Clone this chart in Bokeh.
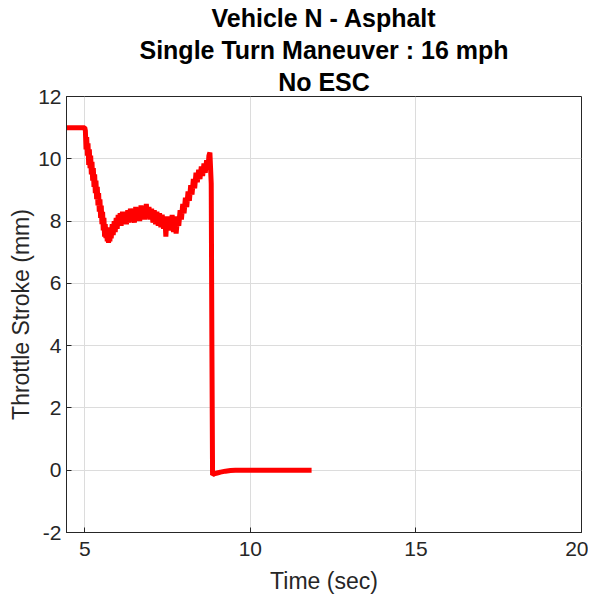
from bokeh.plotting import figure
from bokeh.models import Title, FixedTicker, Range1d
from bokeh.embed import file_html
from bokeh.resources import INLINE

titles = ["Vehicle N - Asphalt", "Single Turn Maneuver : 16 mph", "No ESC"]
x_label = "Time (sec)"
y_label = "Throttle Stroke (mm)"
x_ticks = [5, 10, 15, 20]
y_ticks = [-2, 0, 2, 4, 6, 8, 10, 12]

time = [4.45, 4.8, 5.0, 5.02, 5.04, 5.06, 5.08, 5.1, 5.12, 5.14, 5.16, 5.18, 5.2, 5.22,
        5.24, 5.26, 5.28, 5.3, 5.32, 5.34, 5.36, 5.38, 5.4, 5.42, 5.44, 5.46, 5.48,
        5.5, 5.52, 5.54, 5.56, 5.58, 5.6, 5.62, 5.64, 5.66, 5.68, 5.7, 5.72, 5.74,
        5.76, 5.78, 5.8, 5.83, 5.86, 5.89, 5.92, 5.95, 5.98, 6.01, 6.04, 6.07, 6.1,
        6.14, 6.18, 6.22, 6.26, 6.3, 6.34, 6.38, 6.42, 6.46, 6.5, 6.54, 6.58, 6.62,
        6.66, 6.7, 6.74, 6.78, 6.82, 6.86, 6.9, 6.94, 6.98, 7.02, 7.06, 7.1, 7.14,
        7.18, 7.22, 7.26, 7.3, 7.34, 7.38, 7.42, 7.45, 7.48, 7.52, 7.56, 7.6, 7.64,
        7.68, 7.72, 7.76, 7.8, 7.84, 7.88, 7.92, 7.96, 8.0, 8.04, 8.08, 8.12, 8.16,
        8.2, 8.24, 8.28, 8.32, 8.36, 8.4, 8.44, 8.48, 8.52, 8.56, 8.6, 8.64, 8.68,
        8.72, 8.75, 8.78, 8.8, 8.82, 8.84, 8.86, 8.9, 9.0, 9.1, 9.25, 9.4, 9.55,
        9.8, 10.5, 11.2, 11.85]
throttle = [11.0, 11.0, 11.0, 10.9, 10.3, 10.7, 10.1, 10.5, 9.8, 10.3, 9.7, 10.1, 9.5, 9.9,
            9.3, 9.7, 9.1, 9.5, 8.9, 9.3, 8.7, 9.1, 8.5, 8.9, 8.3, 8.7, 8.1, 8.5,
            7.9, 8.3, 7.7, 8.1, 7.5, 7.9, 7.45, 7.8, 7.35, 7.7, 7.3, 7.6, 7.35, 7.8,
            7.45, 7.9, 7.55, 8.0, 7.65, 8.1, 7.75, 8.2, 7.85, 8.25, 7.85, 8.3, 7.95, 8.3,
            7.9, 8.35, 7.95, 8.4, 8.0, 8.35, 7.95, 8.45, 8.05, 8.4, 8.0, 8.5, 8.05,
            8.45, 8.05, 8.55, 8.1, 8.45, 8.05, 8.4, 7.95, 8.35, 7.9, 8.3, 7.85, 8.25, 7.8,
            8.2, 7.75, 8.15, 7.5, 8.1, 7.75, 8.15, 7.7, 8.2, 7.65, 8.15, 7.6, 8.05,
            7.85, 8.35, 8.05, 8.55, 8.25, 8.75, 8.45, 8.95, 8.65, 9.15, 8.85, 9.35, 9.05, 9.55,
            9.25, 9.65, 9.35, 9.75, 9.45, 9.85, 9.55, 9.95, 9.65, 10.1, 10.2, 9.7, 9.2,
            4.0, -0.15, -0.12, -0.09, -0.06, -0.03, -0.01, 0.0, 0.0, 0.0, 0.0, 0.0]

FONT = "Liberation Sans"
TXT = "#262626"

p = figure(frame_width=515, frame_height=436,
           x_range=Range1d(4.45, 20), y_range=Range1d(-2, 12),
           output_backend="svg", toolbar_location=None,
           min_border_left=66, min_border_right=7, min_border_bottom=62, min_border_top=10)

p.line(time, throttle, line_color="#ff0000", line_width=5)

for t in reversed(titles):
    p.add_layout(Title(text=t, align="center", text_font=FONT, text_font_size="25px",
                       text_font_style="bold", text_color="#000000", standoff=2,
                       offset=0), "above")

for ax in (p.xaxis[0], p.yaxis[0]):
    ax.axis_line_color = TXT
    ax.major_tick_line_color = TXT
    ax.major_tick_in = 5
    ax.major_tick_out = 0
    ax.minor_tick_line_color = None
    ax.major_label_text_font = FONT
    ax.major_label_text_font_size = "21px"
    ax.major_label_text_color = TXT
    ax.axis_label_text_font = FONT
    ax.axis_label_text_font_size = "23px"
    ax.axis_label_text_font_style = "normal"
    ax.axis_label_text_color = TXT

p.xaxis.ticker = FixedTicker(ticks=x_ticks)
p.yaxis.ticker = FixedTicker(ticks=y_ticks)
p.yaxis.major_label_overrides = {t: str(t) for t in y_ticks}
p.xaxis.axis_label = x_label
p.yaxis.axis_label = y_label
p.xaxis.major_label_standoff = 9
p.yaxis.major_label_standoff = 5
p.xaxis.axis_label_standoff = 9
p.yaxis.axis_label_standoff = 1

p.xgrid.ticker = FixedTicker(ticks=x_ticks)
p.ygrid.ticker = FixedTicker(ticks=y_ticks)
p.grid.grid_line_color = "#dcdcdc"
p.grid.grid_line_width = 1

p.outline_line_color = TXT
p.outline_line_width = 1
p.background_fill_color = "white"
p.border_fill_color = "white"

open("out.html", "w").write(file_html(p, INLINE))
